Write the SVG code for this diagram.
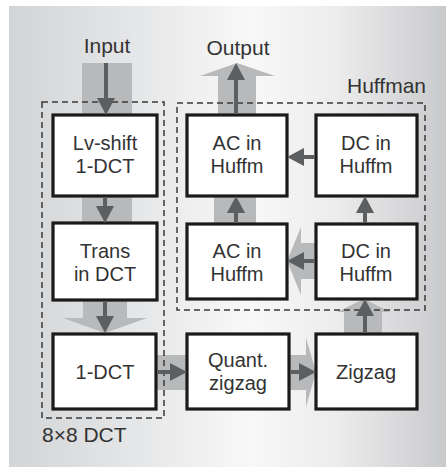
<svg xmlns="http://www.w3.org/2000/svg" width="446" height="471" viewBox="0 0 446 471">
  <defs>
    <linearGradient id="bg" x1="0" y1="0" x2="1" y2="0">
      <stop offset="0" stop-color="#d3d4d6"/>
      <stop offset="0.3" stop-color="#e6e7e8"/>
      <stop offset="0.55" stop-color="#f8f8f8"/>
      <stop offset="0.75" stop-color="#ececed"/>
      <stop offset="1" stop-color="#c9cacc"/>
    </linearGradient>
    <marker id="ah" viewBox="0 0 17 18" refX="1" refY="9" markerWidth="17" markerHeight="18" markerUnits="userSpaceOnUse" orient="auto">
      <path d="M0,0 L17,9 L0,18 Z" fill="#5d5e60"/>
    </marker>
  </defs>
  <style>
    .box { fill: #ffffff; stroke: #1a1a1a; stroke-width: 3.2; }
    .grp { fill: none; stroke: #3a3a3a; stroke-width: 1.5; stroke-dasharray: 6 4; }
    .band { fill: #b8b9bb; }
    .arr { stroke: #5d5e60; stroke-width: 4; fill: none; marker-end: url(#ah); }
    text { font-family: "Liberation Sans", Arial, sans-serif; font-size: 20px; fill: #333333; }
    .c { text-anchor: middle; }
    .lbl { font-size: 21px; }
  </style>

  <rect x="9" y="6" width="437" height="461" fill="url(#bg)"/>

  <g id="bands">
    <rect class="band" x="82" y="63" width="50" height="52"/>
    <rect class="band" x="82" y="196" width="50" height="27"/>
    <rect class="band" x="83" y="300" width="44" height="18"/>
    <polygon class="band" points="63,318 147,318 105,333"/>
    <rect class="band" x="156" y="355" width="31" height="35"/>
    <rect class="band" x="289" y="355" width="17" height="35"/>
    <polygon class="band" points="306,338 306,407 316,372"/>
    <rect class="band" x="344" y="312" width="38" height="22"/>
    <polygon class="band" points="337,312 390,312 364,299"/>
    <rect class="band" x="301" y="243" width="15" height="36"/>
    <polygon class="band" points="301,227 301,295 287,261"/>
    <rect class="band" x="214" y="196" width="42" height="28"/>
    <rect class="band" x="218" y="76" width="38" height="39"/>
    <polygon class="band" points="200,76 275,76 237,63"/>
  </g>

  <g id="group-dct">
    <rect class="grp" x="42" y="102" width="122" height="316"/>
    <text class="lbl" x="42" y="442">8×8 DCT</text>
  </g>
  <g id="group-huffman">
    <rect class="grp" x="177" y="103" width="248" height="207"/>
    <text class="lbl" x="426" y="93" text-anchor="end">Huffman</text>
  </g>

  <g id="label-input"><text class="c lbl" x="107" y="53">Input</text></g>
  <g id="label-output"><text class="c lbl" x="238" y="55">Output</text></g>

  <g id="node-lvshift">
    <rect class="box" x="53" y="115" width="104" height="81"/>
    <text class="c" x="105" y="150">Lv-shift</text>
    <text class="c" x="105" y="173">1-DCT</text>
  </g>
  <g id="node-trans">
    <rect class="box" x="53" y="223" width="104" height="77"/>
    <text class="c" x="105" y="258">Trans</text>
    <text class="c" x="105" y="281">in DCT</text>
  </g>
  <g id="node-1dct">
    <rect class="box" x="53" y="334" width="103" height="75"/>
    <text class="c" x="105" y="379">1-DCT</text>
  </g>
  <g id="node-quant">
    <rect class="box" x="187" y="334" width="102" height="75"/>
    <text class="c" x="238" y="367">Quant.</text>
    <text class="c" x="238" y="390">zigzag</text>
  </g>
  <g id="node-zigzag">
    <rect class="box" x="316" y="334" width="101" height="75"/>
    <text class="c" x="366" y="379">Zigzag</text>
  </g>
  <g id="node-ac-top">
    <rect class="box" x="187" y="115" width="100" height="81"/>
    <text class="c" x="237" y="150">AC in</text>
    <text class="c" x="237" y="173">Huffm</text>
  </g>
  <g id="node-dc-top">
    <rect class="box" x="316" y="115" width="101" height="81"/>
    <text class="c" x="366" y="150">DC in</text>
    <text class="c" x="366" y="173">Huffm</text>
  </g>
  <g id="node-ac-bottom">
    <rect class="box" x="187" y="224" width="100" height="75"/>
    <text class="c" x="237" y="258">AC in</text>
    <text class="c" x="237" y="281">Huffm</text>
  </g>
  <g id="node-dc-bottom">
    <rect class="box" x="316" y="224" width="101" height="75"/>
    <text class="c" x="366" y="258">DC in</text>
    <text class="c" x="366" y="281">Huffm</text>
  </g>

  <g id="connectors">
    <line class="arr" x1="106" y1="63" x2="106" y2="99"/>
    <line class="arr" x1="105" y1="197" x2="105" y2="207"/>
    <line class="arr" x1="105" y1="301" x2="105" y2="317"/>
    <line class="arr" x1="157" y1="372" x2="171" y2="372"/>
    <line class="arr" x1="290" y1="372" x2="300" y2="372"/>
    <line class="arr" x1="365" y1="333" x2="365" y2="315"/>
    <line class="arr" x1="315" y1="261" x2="303" y2="261"/>
    <line class="arr" x1="236" y1="223" x2="236" y2="212"/>
    <line class="arr" x1="365" y1="223" x2="365" y2="212"/>
    <line class="arr" x1="315" y1="157" x2="303" y2="157"/>
    <line class="arr" x1="236" y1="114" x2="236" y2="79"/>
  </g>
</svg>
